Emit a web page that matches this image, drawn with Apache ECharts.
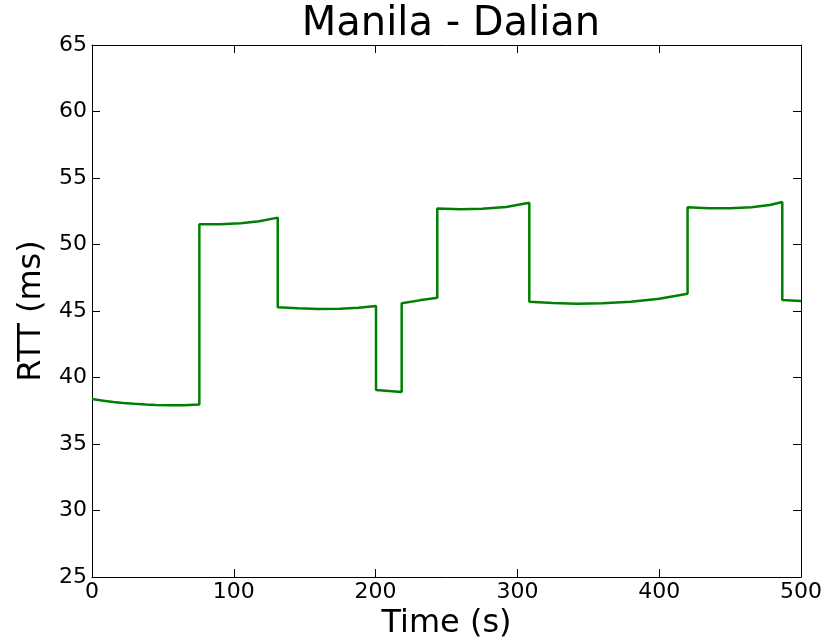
<!DOCTYPE html>
<html>
<head>
<meta charset="utf-8">
<script src="https://cdn.jsdelivr.net/npm/echarts@6/dist/echarts.min.js"></script>
<style>
  html, body { margin: 0; padding: 0; background: #fff; }
  #chart { width: 839px; height: 641px; }
</style>
</head>
<body>
<div id="chart"></div>
<script>
// time (s) and RTT (ms); repeated times are the jumps
const times = [
  0, 8, 15, 22, 30, 38, 45, 55, 65, 75.7,
  75.7, 90, 105, 118, 131,
  131, 145, 160, 175, 188, 200.3,
  200.3, 218.4,
  218.4, 231, 243.5,
  243.5, 260, 275, 292, 308.4,
  308.4, 325, 342, 360, 380, 400, 420,
  420, 435, 450, 465, 478, 486.8,
  486.8, 500
]
const rtt = [
  38.38, 38.26, 38.15, 38.08, 38.02, 37.97, 37.94, 37.91, 37.92, 37.97,
  51.52, 51.53, 51.6, 51.75, 52.02,
  45.28, 45.2, 45.15, 45.17, 45.25, 45.38,
  39.06, 38.91,
  45.58, 45.8, 46.0,
  52.7, 52.65, 52.68, 52.82, 53.14,
  45.7, 45.6, 45.55, 45.58, 45.7, 45.92, 46.3,
  52.8, 52.72, 52.72, 52.8, 52.97, 53.2,
  45.83, 45.75
]
const xTicks = [0, 100, 200, 300, 400, 500]
const yTicks = [25, 30, 35, 40, 45, 50, 55, 60, 65]

const chart = echarts.init(document.getElementById('chart'))
const font = 'DejaVu Sans'

const baseAxis = {
  type: 'value',
  axisLine: { show: true, onZero: false, lineStyle: { color: '#000', width: 1 } },
  axisTick: { show: true, inside: true, length: 8, lineStyle: { color: '#000' } },
  splitLine: { show: false },
}

chart.setOption({
  animation: false,
  title: {
    text: 'Manila - Dalian',
    left: 446,
    textAlign: 'center',
    top: 0,
    textStyle: { fontFamily: font, fontSize: 40, fontWeight: 'normal', color: '#000' },
  },
  grid: { left: 92, right: 38, top: 45, bottom: 64, outerBoundsMode: 'none' },
  xAxis: [
    {
      ...baseAxis,
      position: 'bottom',
      min: xTicks[0],
      max: xTicks[xTicks.length - 1],
      interval: 100,
      name: 'Time (s)',
      nameLocation: 'middle',
      nameGap: 31,
      nameTextStyle: { fontFamily: font, fontSize: 32, color: '#000' },
      axisLabel: { fontFamily: font, fontSize: 22, color: '#000', margin: 4 },
    },
    {
      ...baseAxis,
      position: 'top',
      min: xTicks[0],
      max: xTicks[xTicks.length - 1],
      interval: 100,
      axisLabel: { show: false },
    },
  ],
  yAxis: [
    {
      ...baseAxis,
      position: 'left',
      min: yTicks[0],
      max: yTicks[yTicks.length - 1],
      interval: 5,
      name: 'RTT (ms)',
      nameLocation: 'middle',
      nameGap: 40,
      nameTextStyle: { fontFamily: font, fontSize: 32, color: '#000' },
      axisLabel: { fontFamily: font, fontSize: 22, color: '#000', margin: 5 },
    },
    {
      ...baseAxis,
      position: 'right',
      min: yTicks[0],
      max: yTicks[yTicks.length - 1],
      interval: 5,
      axisLabel: { show: false },
    },
  ],
  series: [
    {
      type: 'line',
      data: times.map((t, i) => [t, rtt[i]]),
      showSymbol: false,
      lineStyle: { color: '#008000', width: 2.5 },
    },
  ],
})
</script>
</body>
</html>
